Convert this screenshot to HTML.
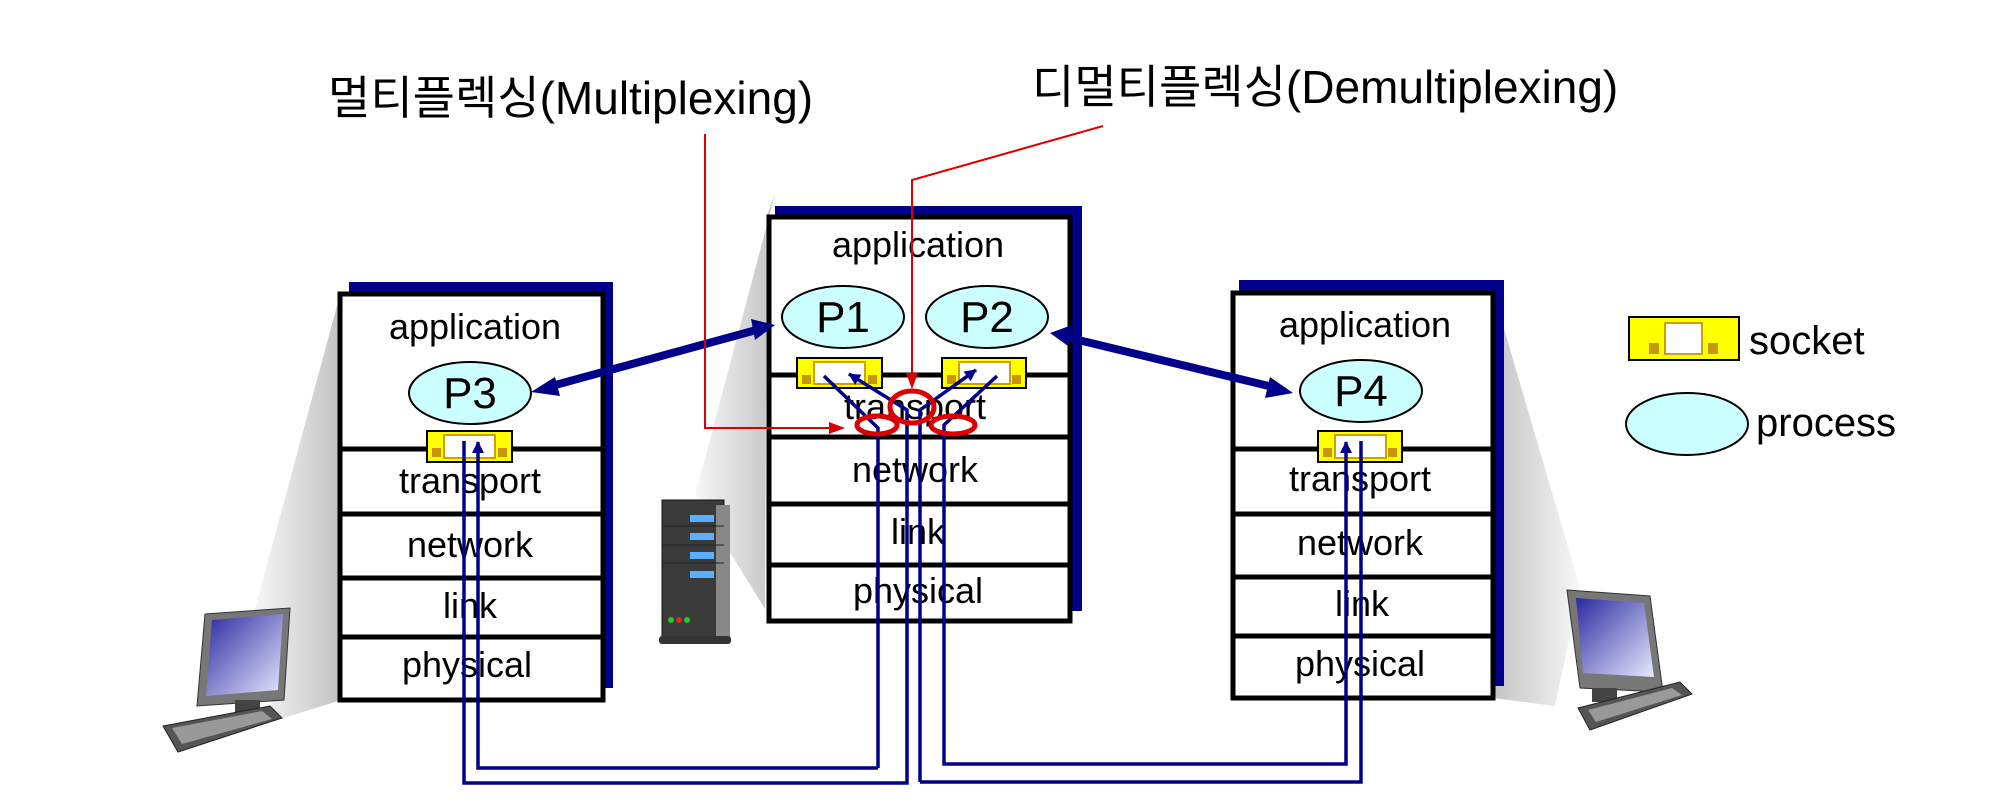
<!DOCTYPE html>
<html><head><meta charset="utf-8"><style>
html,body{margin:0;padding:0;background:#fff;}
svg{display:block;}
text{font-family:"Liberation Sans","Noto Sans CJK KR",sans-serif;}
</style></head><body>
<svg width="2000" height="802" viewBox="0 0 2000 802" xmlns="http://www.w3.org/2000/svg">
<defs>
<linearGradient id="sh" x1="0" y1="0" x2="1" y2="0"><stop offset="0" stop-color="#f7f7f7"/><stop offset="1" stop-color="#c4c4c4"/></linearGradient>
<linearGradient id="shr" x1="0" y1="0" x2="1" y2="0"><stop offset="0" stop-color="#c4c4c4"/><stop offset="1" stop-color="#f7f7f7"/></linearGradient>
<linearGradient id="scr" x1="0" y1="0" x2="1" y2="1"><stop offset="0" stop-color="#2a2aa0"/><stop offset="1" stop-color="#e8e8ff"/></linearGradient>
<marker id="ab" markerWidth="12" markerHeight="12" refX="11" refY="6" orient="auto" markerUnits="userSpaceOnUse" viewBox="0 0 12 12"><path d="M0,0 L12,6 L0,12 z" fill="#00008b"/></marker>
<marker id="ar" markerWidth="16" markerHeight="14" refX="14" refY="7" orient="auto" markerUnits="userSpaceOnUse" viewBox="0 0 16 14"><path d="M0,1 L16,7 L0,13 z" fill="#d00"/></marker>
</defs>

<!-- shades -->
<polygon points="338,302 255,609 274,721 338,701" fill="url(#sh)"/>
<polygon points="775,194 695,496 765,609 767,215" fill="url(#sh)"/>
<polygon points="1493,291 1580,588 1555,706 1493,698" fill="url(#shr)"/>

<!-- titles -->
<text x="328" y="114" font-size="46">멀티플렉싱(Multiplexing)</text>
<text x="1032" y="103" font-size="46">디멀티플렉싱(Demultiplexing)</text>

<!-- left box -->
<rect x="349" y="282" width="264" height="406" fill="#00008b"/>
<rect x="340" y="294" width="263" height="406" fill="#fff" stroke="#000" stroke-width="5"/>
<g stroke="#000" stroke-width="5"><line x1="340" y1="449" x2="603" y2="449"/><line x1="340" y1="514" x2="603" y2="514"/><line x1="340" y1="578" x2="603" y2="578"/><line x1="340" y1="637" x2="603" y2="637"/></g>
<g font-size="36" text-anchor="middle"><text x="475" y="339">application</text><text x="470" y="493">transport</text><text x="470" y="557">network</text><text x="470" y="618">link</text><text x="467" y="677">physical</text></g>
<ellipse cx="470" cy="393" rx="61" ry="31" fill="#ccffff" stroke="#000" stroke-width="2"/>
<text x="470" y="408" font-size="44" text-anchor="middle">P3</text>

<!-- center box -->
<rect x="775" y="206" width="307" height="405" fill="#00008b"/>
<rect x="769" y="217" width="301" height="404" fill="#fff" stroke="#000" stroke-width="5"/>
<g stroke="#000" stroke-width="5"><line x1="769" y1="375" x2="1070" y2="375"/><line x1="769" y1="437" x2="1070" y2="437"/><line x1="769" y1="504" x2="1070" y2="504"/><line x1="769" y1="565" x2="1070" y2="565"/></g>
<g font-size="36" text-anchor="middle"><text x="918" y="257">application</text><text x="915" y="419">transport</text><text x="915" y="482">network</text><text x="918" y="544">link</text><text x="918" y="603">physical</text></g>
<ellipse cx="843" cy="317" rx="61" ry="31" fill="#ccffff" stroke="#000" stroke-width="2"/>
<text x="843" y="332" font-size="44" text-anchor="middle">P1</text>
<ellipse cx="987" cy="317" rx="61" ry="31" fill="#ccffff" stroke="#000" stroke-width="2"/>
<text x="987" y="332" font-size="44" text-anchor="middle">P2</text>

<!-- right box -->
<rect x="1239" y="280" width="265" height="406" fill="#00008b"/>
<rect x="1233" y="293" width="260" height="405" fill="#fff" stroke="#000" stroke-width="5"/>
<g stroke="#000" stroke-width="5"><line x1="1233" y1="449" x2="1493" y2="449"/><line x1="1233" y1="514" x2="1493" y2="514"/><line x1="1233" y1="577" x2="1493" y2="577"/><line x1="1233" y1="636" x2="1493" y2="636"/></g>
<g font-size="36" text-anchor="middle"><text x="1365" y="337">application</text><text x="1360" y="491">transport</text><text x="1360" y="555">network</text><text x="1362" y="616">link</text><text x="1360" y="676">physical</text></g>
<ellipse cx="1361" cy="391" rx="61" ry="31" fill="#ccffff" stroke="#000" stroke-width="2"/>
<text x="1361" y="406" font-size="44" text-anchor="middle">P4</text>

<!-- sockets -->
<g transform="translate(427,431)"><rect x="0" y="0" width="85" height="31" fill="#ffff00" stroke="#000" stroke-width="2"/><rect x="17" y="4" width="51" height="23" fill="#fff" stroke="#d0a000" stroke-width="2"/><rect x="5" y="17" width="9" height="9" fill="#c8960a"/><rect x="71" y="17" width="9" height="9" fill="#c8960a"/></g>
<g transform="translate(797,358)"><rect x="0" y="0" width="85" height="30" fill="#ffff00" stroke="#000" stroke-width="2"/><rect x="17" y="4" width="51" height="22" fill="#fff" stroke="#d0a000" stroke-width="2"/><rect x="5" y="17" width="9" height="9" fill="#c8960a"/><rect x="71" y="17" width="9" height="9" fill="#c8960a"/></g>
<g transform="translate(942,358)"><rect x="0" y="0" width="84" height="30" fill="#ffff00" stroke="#000" stroke-width="2"/><rect x="17" y="4" width="51" height="22" fill="#fff" stroke="#d0a000" stroke-width="2"/><rect x="5" y="17" width="9" height="9" fill="#c8960a"/><rect x="70" y="17" width="9" height="9" fill="#c8960a"/></g>
<g transform="translate(1318,431)"><rect x="0" y="0" width="84" height="31" fill="#ffff00" stroke="#000" stroke-width="2"/><rect x="17" y="4" width="51" height="23" fill="#fff" stroke="#d0a000" stroke-width="2"/><rect x="5" y="17" width="9" height="9" fill="#c8960a"/><rect x="70" y="17" width="9" height="9" fill="#c8960a"/></g>

<!-- legend -->
<g transform="translate(1629,317)"><rect x="0" y="0" width="110" height="43" fill="#ffff00" stroke="#000" stroke-width="2"/><rect x="36" y="6" width="37" height="31" fill="#fff" stroke="#d0a000" stroke-width="2"/><rect x="20" y="26" width="10" height="11" fill="#c8960a"/><rect x="79" y="26" width="10" height="11" fill="#c8960a"/></g>
<text x="1749" y="354" font-size="40">socket</text>
<ellipse cx="1687" cy="424" rx="61" ry="31" fill="#ccffff" stroke="#000" stroke-width="2"/>
<text x="1756" y="436" font-size="40">process</text>

<!-- thick arrows -->
<g stroke="#00008b" stroke-width="8" fill="none">
<line x1="548" y1="387" x2="760" y2="329"/>
<line x1="1066" y1="337" x2="1277" y2="388"/>
</g>
<polygon points="531,392 555,377 560,396" fill="#00008b"/>
<polygon points="775,325 751,319 755,340" fill="#00008b"/>
<polygon points="1050,333 1072,325 1068,346" fill="#00008b"/>
<polygon points="1293,393 1270,377 1265,398" fill="#00008b"/>

<!-- blue wires -->
<g stroke="#00008b" stroke-width="3.5" fill="none">
<polyline points="464,441 464,783 907,783 907,410 849,374" marker-end="url(#ab)"/>
<polyline points="878,768 478,768 478,442" marker-end="url(#ab)"/>
<polyline points="824,376 878,428 878,768"/>
<polyline points="920,782 920,410 976,370" marker-end="url(#ab)"/>
<polyline points="920,782 1361,782 1361,441"/>
<polyline points="997,376 944,425 944,764 1346,764 1346,442" marker-end="url(#ab)"/>
</g>

<!-- red -->
<g stroke="#d00" fill="none">
<polyline points="705,134 705,428 843,428" stroke-width="2" marker-end="url(#ar)"/>
<polyline points="1103,126 912,180 912,387" stroke-width="2" marker-end="url(#ar)"/>
<ellipse cx="912" cy="407" rx="22" ry="16" stroke-width="5"/>
<ellipse cx="877" cy="425" rx="20" ry="9" stroke-width="5"/>
<ellipse cx="953" cy="425" rx="22" ry="9" stroke-width="5"/>
</g>

<!-- left computer -->
<g>
<polygon points="205,614 290,608 284,700 197,706" fill="#777" stroke="#333"/>
<polygon points="212,620 283,614 278,690 206,696" fill="url(#scr)"/>
<rect x="235" y="700" width="25" height="14" fill="#444"/>
<polygon points="163,726 270,706 282,718 178,752" fill="#555" stroke="#222"/>
<polygon points="172,728 262,711 272,719 182,744" fill="#999"/>
</g>
<!-- server -->
<g>
<rect x="662" y="500" width="62" height="140" fill="#3a3a3a" stroke="#111"/>
<rect x="716" y="505" width="14" height="135" fill="#888"/>
<g fill="#5ab0ff"><rect x="690" y="515" width="24" height="7"/><rect x="690" y="533" width="24" height="7"/><rect x="690" y="552" width="24" height="7"/><rect x="690" y="571" width="24" height="7"/></g>
<g stroke="#222"><line x1="662" y1="526" x2="724" y2="526"/><line x1="662" y1="545" x2="724" y2="545"/><line x1="662" y1="563" x2="724" y2="563"/></g>
<circle cx="671" cy="620" r="3" fill="#2c2"/><circle cx="679" cy="620" r="3" fill="#e22"/><circle cx="687" cy="620" r="3" fill="#2c2"/>
<rect x="659" y="636" width="72" height="8" rx="3" fill="#333"/>
</g>
<!-- right computer -->
<g>
<polygon points="1567,590 1650,596 1663,692 1580,688" fill="#777" stroke="#333"/>
<polygon points="1576,598 1644,603 1654,677 1583,673" fill="url(#scr)"/>
<rect x="1592" y="688" width="25" height="14" fill="#444"/>
<polygon points="1578,708 1680,682 1692,694 1590,730" fill="#555" stroke="#222"/>
<polygon points="1588,710 1672,688 1682,695 1596,722" fill="#999"/>
</g>
</svg>
</body></html>
